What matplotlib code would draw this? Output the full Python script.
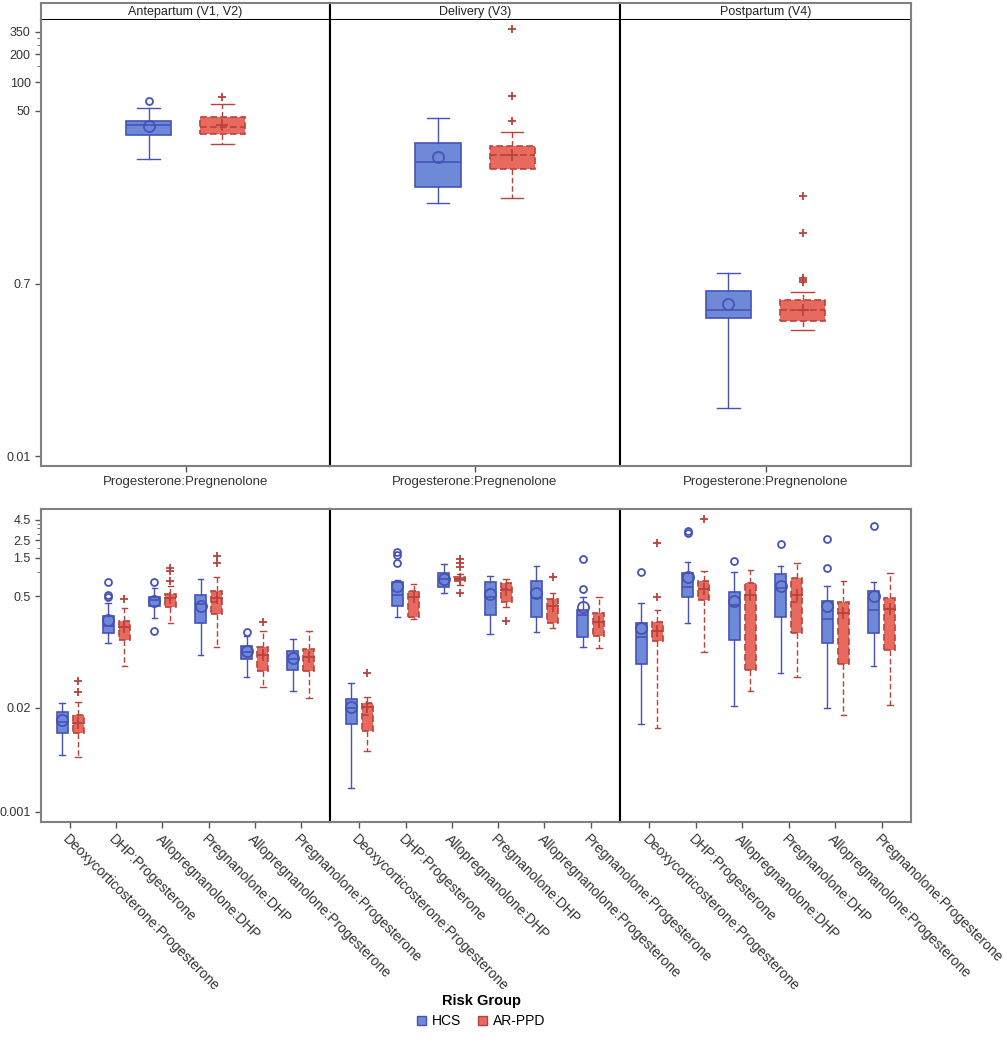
import matplotlib
matplotlib.use("Agg")
import matplotlib.pyplot as plt
from matplotlib.patches import Patch
from matplotlib.ticker import FixedLocator, NullFormatter

plt.rcParams['font.family'] = ['Liberation Sans', 'DejaVu Sans']

# Visits (panels) and ratios
visits = ["Antepartum (V1, V2)", "Delivery (V3)", "Postpartum (V4)"]
top_ratio = "Progesterone:Pregnenolone"
ratios = ["Deoxycorticosterone:Progesterone", "DHP:Progesterone",
          "Allopregnanolone:DHP", "Pregnanolone:DHP",
          "Allopregnanolone:Progesterone", "Pregnanolone:Progesterone"]
groups = ["HCS", "AR-PPD"]

# box stats: (whisker low, q1, median, q3, whisker high, mean, outliers)
# top row: Progesterone:Pregnenolone, one box per visit
top_hcs = [(15.2, 27.5, 35.5, 38.7, 53.4, 34.0, [63.0]),
           (5.1, 7.6, 14.1, 22.5, 41.7, 16.0, []),
           (0.033, 0.303, 0.369, 0.589, 0.918, 0.428, [])]
top_ar = [(22.0, 28.1, 33.4, 42.8, 58.9, 35.0, [70.0]),
          (5.8, 11.9, 16.8, 20.9, 29.6, 16.8, [38.8, 71.7, 373.0]),
          (0.225, 0.281, 0.369, 0.472, 0.575, 0.37, [0.74, 0.78, 0.82, 2.46, 6.11])]

# bottom row: six ratios per visit
hcs_ante = [(0.00515, 0.00969, 0.0133, 0.0177, 0.0230, 0.0141, []),
            (0.129, 0.172, 0.211, 0.281, 0.409, 0.251, [0.49, 0.51, 0.75]),
            (0.265, 0.375, 0.44, 0.486, 0.630, 0.433, [0.183, 0.748]),
            (0.0915, 0.230, 0.40, 0.514, 0.816, 0.375, []),
            (0.0486, 0.0816, 0.100, 0.119, 0.158, 0.103, [0.178]),
            (0.0325, 0.0594, 0.0816, 0.103, 0.145, 0.085, [])]
ar_ante = [(0.00486, 0.00969, 0.0129, 0.0163, 0.0237, 0.0129, [0.0315, 0.0433]),
           (0.0667, 0.141, 0.205, 0.243, 0.354, 0.205, [0.459]),
           (0.230, 0.364, 0.472, 0.530, 0.667, 0.472, [0.770, 1.03, 1.12]),
           (0.115, 0.298, 0.421, 0.577, 0.864, 0.472, [1.29, 1.58]),
           (0.0364, 0.0577, 0.0915, 0.116, 0.185, 0.0915, [0.237]),
           (0.0266, 0.0577, 0.0864, 0.109, 0.183, 0.0864, [])]
hcs_deliv = [(0.00199, 0.0126, 0.0199, 0.0258, 0.0409, 0.0205, []),
             (0.273, 0.375, 0.514, 0.748, 0.793, 0.667, [1.29, 1.63, 1.77]),
             (0.545, 0.648, 0.816, 0.969, 1.256, 0.816, []),
             (0.168, 0.289, 0.486, 0.748, 0.889, 0.529, []),
             (0.178, 0.273, 0.472, 0.770, 1.19, 0.545, []),
             (0.115, 0.154, 0.289, 0.334, 0.486, 0.364, [0.612, 1.45])]
ar_deliv = [(0.00578, 0.0103, 0.0163, 0.0230, 0.0273, 0.0205, [0.0545]),
            (0.258, 0.273, 0.486, 0.577, 0.706, 0.486, []),
            (0.686, 0.770, 0.816, 0.864, 0.942, 0.816, [0.545, 1.15, 1.29, 1.45]),
            (0.364, 0.421, 0.612, 0.727, 0.816, 0.595, [0.243]),
            (0.199, 0.230, 0.375, 0.459, 0.545, 0.375, [0.864]),
            (0.112, 0.158, 0.237, 0.306, 0.486, 0.237, [])]
hcs_post = [(0.0126, 0.0706, 0.154, 0.230, 0.409, 0.199, [0.998]),
            (0.230, 0.486, 0.648, 0.969, 1.33, 0.864, [3.1, 3.25]),
            (0.0211, 0.141, 0.386, 0.561, 0.998, 0.433, [1.37]),
            (0.0545, 0.273, 0.630, 0.942, 1.19, 0.667, [2.23]),
            (0.0199, 0.129, 0.258, 0.433, 0.667, 0.375, [1.12, 2.58]),
            (0.0667, 0.172, 0.334, 0.577, 0.748, 0.5, [3.75])]
ar_post = [(0.0112, 0.137, 0.183, 0.237, 0.334, 0.183, [0.486, 2.30]),
           (0.0998, 0.446, 0.612, 0.770, 1.03, 0.612, [4.59]),
           (0.0325, 0.0594, 0.514, 0.727, 1.06, 0.514, []),
           (0.0486, 0.172, 0.421, 0.840, 1.29, 0.514, []),
           (0.0163, 0.0706, 0.306, 0.421, 0.770, 0.306, []),
           (0.0217, 0.106, 0.344, 0.472, 0.969, 0.344, [])]
bottom_hcs = [hcs_ante, hcs_deliv, hcs_post]
bottom_ar = [ar_ante, ar_deliv, ar_post]

top_ticks = [0.01, 0.7, 50, 100, 200, 350]
top_minor = [150, 250, 300]
bot_ticks = [0.001, 0.02, 0.5, 1.5, 2.5, 4.5]
bot_minor = [1.0, 2.0, 3.0, 3.5, 4.0]

hcs_fill, hcs_edge = "#6e89d8", "#4652b8"
ar_fill, ar_edge = "#e86a5e", "#b8423c"
grey = "#808080"


def to_stats(rows):
    return [dict(whislo=r[0], q1=r[1], med=r[2], q3=r[3], whishi=r[4],
                 mean=r[5], fliers=r[6]) for r in rows]


def draw(ax, rows, pos, width, hcs):
    fill, edge = (hcs_fill, hcs_edge) if hcs else (ar_fill, ar_edge)
    ls = "-" if hcs else (0, (4, 2))
    ax.bxp(to_stats(rows), positions=pos, widths=width, capwidths=width * 0.5,
           patch_artist=True, showmeans=True, manage_ticks=False,
           boxprops=dict(facecolor=fill, edgecolor=edge, linewidth=1.2, linestyle=ls),
           medianprops=dict(color=edge, linewidth=1.2, linestyle=ls),
           whiskerprops=dict(color=edge, linewidth=1.0, linestyle=ls),
           capprops=dict(color=edge, linewidth=1.0),
           meanprops=dict(marker="o" if hcs else "+", markersize=8 if hcs else 9,
                          markerfacecolor="none", markeredgecolor=edge,
                          markeredgewidth=1.3),
           flierprops=dict(marker="o" if hcs else "+", markersize=5 if hcs else 6,
                           markerfacecolor="none", markeredgecolor=edge,
                           markeredgewidth=1.3))


def style(ax, i, ticks, minor):
    ax.set_yscale("log")
    for side in ["top", "bottom", "left", "right"]:
        ax.spines[side].set_color(grey)
        ax.spines[side].set_linewidth(1.5)
    if i > 0:
        ax.spines["left"].set_color("black")
    if i < 2:
        ax.spines["right"].set_color("black")
    ax.tick_params(axis="both", colors="#555555", labelcolor="#333333",
                   length=4, width=1, labelsize=9)
    ax.tick_params(axis="y", which="minor", length=3, colors="#555555")
    if i == 0:
        ax.yaxis.set_major_locator(FixedLocator(ticks))
        ax.yaxis.set_minor_locator(FixedLocator(minor))
        ax.set_yticklabels([("%g" % t) for t in ticks])
        ax.yaxis.set_minor_formatter(NullFormatter())
    else:
        ax.yaxis.set_major_locator(FixedLocator([]))
        ax.yaxis.set_minor_locator(FixedLocator([]))


fig = plt.figure(figsize=(10.07, 10.5), dpi=100)
W, H = 1007, 1050


def rect(x0, y0, x1, y1):
    return [x0 / W, 1 - y1 / H, (x1 - x0) / W, (y1 - y0) / H]


panel_x = [(41, 330), (330, 620), (620, 911)]

for i, (x0, x1) in enumerate(panel_x):
    # header strip
    sax = fig.add_axes(rect(x0, 3, x1, 20))
    sax.set_xticks([])
    sax.set_yticks([])
    for side in sax.spines:
        sax.spines[side].set_color(grey)
        sax.spines[side].set_linewidth(1.5)
    sax.spines["bottom"].set_color("black")
    if i > 0:
        sax.spines["left"].set_color("black")
    if i < 2:
        sax.spines["right"].set_color("black")
    sax.text(0.5, 0.45, visits[i], ha="center", va="center", fontsize=9,
             color="#222222", transform=sax.transAxes)

    # top row
    ax = fig.add_axes(rect(x0, 20, x1, 466))
    draw(ax, [top_hcs[i]], [-0.128], 0.156, True)
    draw(ax, [top_ar[i]], [0.128], 0.156, False)
    ax.set_xlim(-0.5, 0.5)
    ax.set_ylim(0.0079, 466)
    style(ax, i, top_ticks, top_minor)
    ax.set_xticks([0])
    ax.set_xticklabels([top_ratio], fontsize=9.5)
    ax.spines["top"].set_visible(False)

    # bottom row
    bx = fig.add_axes(rect(x0, 509, x1, 822))
    cats = list(range(len(ratios)))
    draw(bx, bottom_hcs[i], [c - 0.174 for c in cats], 0.24, True)
    draw(bx, bottom_ar[i], [c + 0.174 for c in cats], 0.24, False)
    bx.set_xlim(-0.63, 5.63)
    bx.set_ylim(0.000748, 6.12)
    style(bx, i, bot_ticks, bot_minor)
    bx.set_xticks(cats)
    bx.set_xticklabels(ratios, rotation=-45, ha="left", va="top",
                       rotation_mode="anchor", fontsize=10)
    for lab in bx.get_xticklabels():
        lab.set_x(lab.get_position()[0])

handles = [Patch(facecolor=hcs_fill, edgecolor=hcs_edge),
           Patch(facecolor=ar_fill, edgecolor=ar_edge)]
fig.legend(handles, groups, loc="center", bbox_to_anchor=(481 / W, 1 - 1011 / H),
           ncol=2, frameon=False, title="Risk Group",
           title_fontproperties={"weight": "bold", "size": 10.5}, fontsize=10,
           handlelength=0.7, handleheight=0.7, columnspacing=1.2,
           handletextpad=0.4)

fig.savefig("out.png", dpi=100)
